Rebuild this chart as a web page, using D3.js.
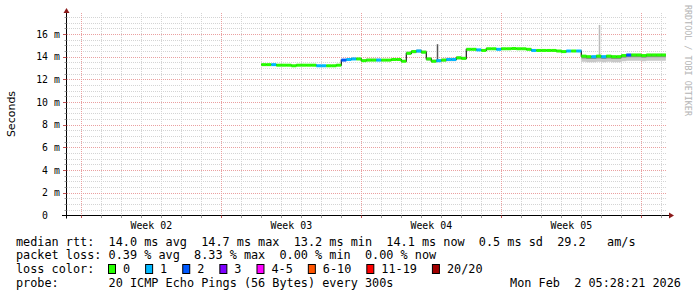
<!DOCTYPE html>
<html>
<head>
<meta charset="utf-8">
<script src="https://cdn.jsdelivr.net/npm/d3@7/dist/d3.min.js"></script>
<style>
  body { margin: 0; background: #fff; }
  text { font-family: "DejaVu Sans Mono", monospace; fill: #000; white-space: pre; }
</style>
</head>
<body>
<div id="chart"></div>
<script>
// time window of the graph (30 days)
var startTime = Date.UTC(2026, 0, 3, 6, 50);
var endTime = Date.UTC(2026, 1, 2, 6, 50);

// median rtt (ms), one sample every 6 hours from dataStart
var dataStart = Date.UTC(2026, 0, 13, 0, 0);
var dataEnd = Date.UTC(2026, 1, 2, 5, 30);
var stepHours = 6;
var median = [
  13.3, 13.3, 13.3, 13.25, 13.25, 13.25, 13.2, 13.25, 13.25, 13.25,
  13.25, 13.2, 13.2, 13.2, 13.2, 13.25, 13.7, 13.75, 13.8, 13.8,
  13.65, 13.7, 13.7, 13.7, 13.7, 13.7, 13.75, 13.75, 13.6, 14.3,
  14.45, 14.5, 14.4, 13.8, 13.6, 13.65, 13.7, 13.75, 13.75, 13.9,
  13.85, 14.65, 14.65, 14.6, 14.55, 14.7, 14.7, 14.65, 14.7, 14.7,
  14.72, 14.7, 14.7, 14.65, 14.55, 14.55, 14.55, 14.55, 14.55, 14.5,
  14.45, 14.5, 14.5, 14.5, 14.05, 14.0, 14.0, 14.05, 14.0, 14.05,
  14.0, 14.0, 14.1, 14.15, 14.15, 14.15, 14.1, 14.15, 14.15, 14.15,
  14.15
];
// lost pings (out of 20) per sample
var loss = [
  0, 0, 1, 0, 0, 0, 0, 0, 0, 0,
  0, 1, 1, 0, 0, 0, 2, 1, 1, 0,
  0, 0, 0, 1, 0, 0, 0, 0, 0, 0,
  0, 1, 0, 0, 0, 1, 0, 1, 1, 0,
  0, 0, 0, 1, 0, 0, 0, 1, 0, 0,
  0, 0, 0, 0, 1, 0, 0, 0, 0, 0,
  0, 1, 0, 1, 0, 0, 1, 0, 1, 0,
  0, 0, 0, 2, 0, 0, 0, 0, 0, 0,
  0
];
// smoke spread above / below the median (ms)
var smokeUp = [
  0.05, 0.05, 0.05, 0.05, 0.05, 0.05, 0.05, 0.05, 0.05, 0.05,
  0.05, 0.05, 0.05, 0.05, 0.05, 0.05, 0.1, 0.1, 0.1, 0.1,
  0.15, 0.15, 0.15, 0.15, 0.1, 0.1, 0.1, 0.1, 0.1, 0.15,
  0.15, 0.15, 0.15, 0.15, 0.15, 0.15, 0.15, 0.15, 0.15, 0.15,
  0.15, 0.05, 0.05, 0.05, 0.05, 0.05, 0.05, 0.05, 0.05, 0.05,
  0.05, 0.05, 0.05, 0.05, 0.05, 0.05, 0.05, 0.05, 0.05, 0.05,
  0.05, 0.05, 0.05, 0.05, 0.1, 0.1, 0.1, 0.1, 0.1, 0.1,
  0.1, 0.1, 0.1, 0.1, 0.1, 0.1, 0.1, 0.1, 0.1, 0.1,
  0.1
];
var smokeDown = [
  0.05, 0.05, 0.05, 0.05, 0.05, 0.05, 0.05, 0.05, 0.05, 0.05,
  0.05, 0.05, 0.05, 0.05, 0.05, 0.05, 0.1, 0.1, 0.1, 0.1,
  0.1, 0.1, 0.1, 0.1, 0.1, 0.1, 0.1, 0.1, 0.1, 0.15,
  0.15, 0.15, 0.15, 0.15, 0.15, 0.15, 0.15, 0.15, 0.15, 0.15,
  0.15, 0.05, 0.05, 0.05, 0.05, 0.05, 0.05, 0.05, 0.05, 0.05,
  0.05, 0.05, 0.05, 0.05, 0.05, 0.05, 0.05, 0.05, 0.05, 0.05,
  0.05, 0.05, 0.05, 0.05, 0.5, 0.5, 0.5, 0.5, 0.5, 0.5,
  0.5, 0.5, 0.5, 0.5, 0.5, 0.5, 0.5, 0.5, 0.5, 0.5,
  0.5
];
// single slow pings sticking out of the smoke
var spikeTimes = [Date.UTC(2026, 0, 21, 18, 30), Date.UTC(2026, 0, 29, 21, 15)];
var spikeValues = [15.1, 16.8];
var spikeColors = ["#555", "#bbb"];

var yTicks = [0, 2, 4, 6, 8, 10, 12, 14, 16];
var lossLabels = ["0", "1", "2", "3", "4-5", "6-10", "11-19", "20/20"];
var lossColors = ["#26ff00", "#00b8ff", "#0059ff", "#7e00ff", "#ff00ff", "#ff5500", "#ff0000", "#a10000"];
var statLines = [
  "median rtt:  14.0 ms avg  14.7 ms max  13.2 ms min  14.1 ms now  0.5 ms sd  29.2   am/s",
  "packet loss: 0.39 % avg  8.33 % max  0.00 % min  0.00 % now"
];
var probeText = "probe:       20 ICMP Echo Pings (56 Bytes) every 300s";
var dateText = "Mon Feb  2 05:28:21 2026";

// canvas
var width = 697, height = 297;
var plot = {left: 67, right: 667, top: 13, bottom: 215.5};
var charW = 7.12;

var svg = d3.select("#chart").append("svg")
    .attr("width", width)
    .attr("height", height);

var x = d3.scaleUtc().domain([startTime, endTime]).range([plot.left, plot.right]);
var y = d3.scaleLinear().domain([0, 16]).range([plot.bottom, 34]);

var step = stepHours * 3600 * 1000;
function tAt(i) { return dataStart + i * step; }
function lossClass(n) {
  if (n <= 3) return n;
  if (n <= 5) return 4;
  if (n <= 10) return 5;
  if (n <= 19) return 6;
  return 7;
}

// grid: horizontal
var minorY = d3.range(1, 36).map(function(k) { return k * 0.5; })
  .filter(function(v) { return v % 2 !== 0; });
var majorY = yTicks.filter(function(v) { return v > 0; });

svg.append("g").selectAll("line").data(minorY).enter().append("line")
  .attr("x1", plot.left).attr("x2", plot.right)
  .attr("y1", function(d) { return Math.round(y(d)) + 0.5; })
  .attr("y2", function(d) { return Math.round(y(d)) + 0.5; })
  .attr("stroke", "#d4d4d4").attr("stroke-dasharray", "1,1");

// grid: vertical days / weeks
var days = d3.utcDay.range(startTime, endTime);
var weeks = d3.utcSunday.range(startTime, endTime);
svg.append("g").selectAll("line").data(days.filter(function(d) { return d.getUTCDay() !== 0; }))
  .enter().append("line")
  .attr("x1", function(d) { return Math.round(x(d)) + 0.5; })
  .attr("x2", function(d) { return Math.round(x(d)) + 0.5; })
  .attr("y1", plot.top).attr("y2", plot.bottom)
  .attr("stroke", "#d4d4d4").attr("stroke-dasharray", "1,1");

svg.append("g").selectAll("line").data(majorY).enter().append("line")
  .attr("x1", plot.left).attr("x2", plot.right)
  .attr("y1", function(d) { return Math.round(y(d)) + 0.5; })
  .attr("y2", function(d) { return Math.round(y(d)) + 0.5; })
  .attr("stroke", "#eaa0a0").attr("stroke-dasharray", "1,1");

svg.append("g").selectAll("line").data(weeks).enter().append("line")
  .attr("x1", function(d) { return Math.round(x(d)) + 0.5; })
  .attr("x2", function(d) { return Math.round(x(d)) + 0.5; })
  .attr("y1", plot.top).attr("y2", plot.bottom)
  .attr("stroke", "#eaa0a0").attr("stroke-dasharray", "1,1");

// smoke
var pts = median.map(function(m, i) {
  return {t: tAt(i), m: m, up: smokeUp[i], down: smokeDown[i]};
});
pts.push({t: dataEnd, m: median[median.length - 1], up: smokeUp[smokeUp.length - 1], down: smokeDown[smokeDown.length - 1]});

var outer = d3.area().curve(d3.curveStepAfter)
  .x(function(d) { return x(d.t); })
  .y0(function(d) { return y(d.m - d.down); })
  .y1(function(d) { return y(d.m + d.up); });
var inner = d3.area().curve(d3.curveStepAfter)
  .x(function(d) { return x(d.t); })
  .y0(function(d) { return y(d.m - d.down * 0.4); })
  .y1(function(d) { return y(d.m + d.up * 0.4); });

svg.append("path").datum(pts).attr("d", outer).attr("fill", "#c8c8c8");
svg.append("path").datum(pts).attr("d", inner).attr("fill", "#8c8c8c");

// spikes
svg.append("g").selectAll("line").data(spikeTimes).enter().append("line")
  .attr("x1", function(d) { return Math.round(x(d)) + 0.5; })
  .attr("x2", function(d) { return Math.round(x(d)) + 0.5; })
  .attr("y1", function(d, i) { return y(spikeValues[i]); })
  .attr("y2", function(d, i) { return y(median[Math.floor((d - dataStart) / step)]); })
  .attr("stroke", function(d, i) { return spikeColors[i]; })
  .attr("stroke-width", 1.5);

// median step connector
var medLine = d3.line().curve(d3.curveStepAfter)
  .x(function(d) { return x(d.t); })
  .y(function(d) { return y(d.m); });
svg.append("path").datum(pts).attr("d", medLine)
  .attr("fill", "none").attr("stroke", "#1a1a1a").attr("stroke-width", 1.2);

// median coloured by loss
svg.append("g").selectAll("line").data(median).enter().append("line")
  .attr("x1", function(d, i) { return x(tAt(i)); })
  .attr("x2", function(d, i) { return x(Math.min(tAt(i + 1), dataEnd)); })
  .attr("y1", function(d) { return y(d); })
  .attr("y2", function(d) { return y(d); })
  .attr("stroke", function(d, i) { return lossColors[lossClass(loss[i])]; })
  .attr("stroke-width", 3);

// axes
svg.append("line")
  .attr("x1", 66.5).attr("x2", 66.5).attr("y1", plot.bottom + 3).attr("y2", 12)
  .attr("stroke", "#000");
svg.append("line")
  .attr("x1", 62).attr("x2", 670).attr("y1", plot.bottom).attr("y2", plot.bottom)
  .attr("stroke", "#000");
svg.append("path").attr("d", "M63.5,13L69.5,13L66.5,8Z").attr("fill", "#8b1a1a");
svg.append("path").attr("d", "M669,212.5L669,218.5L674,215.5Z").attr("fill", "#8b1a1a");

// axis ticks
svg.append("g").selectAll("line").data(minorY).enter().append("line")
  .attr("x1", 64.5).attr("x2", 66.5)
  .attr("y1", function(d) { return Math.round(y(d)) + 0.5; })
  .attr("y2", function(d) { return Math.round(y(d)) + 0.5; })
  .attr("stroke", "#999");
svg.append("g").selectAll("line").data(majorY).enter().append("line")
  .attr("x1", 63).attr("x2", 66.5)
  .attr("y1", function(d) { return Math.round(y(d)) + 0.5; })
  .attr("y2", function(d) { return Math.round(y(d)) + 0.5; })
  .attr("stroke", "#c05050");
svg.append("g").selectAll("line").data(days).enter().append("line")
  .attr("x1", function(d) { return Math.round(x(d)) + 0.5; })
  .attr("x2", function(d) { return Math.round(x(d)) + 0.5; })
  .attr("y1", plot.bottom).attr("y2", plot.bottom + 2.5)
  .attr("stroke", function(d) { return d.getUTCDay() === 0 ? "#c05050" : "#999"; });

// y tick labels
var yl = svg.append("g").style("font-size", "9.8px");
yl.selectAll(".num").data(yTicks).enter().append("text")
  .attr("x", 48).attr("y", function(d) { return y(d) + 3.5; })
  .attr("text-anchor", "end")
  .text(function(d) { return d; });
yl.selectAll(".unit").data(majorY).enter().append("text")
  .attr("x", 54).attr("y", function(d) { return y(d) + 3.5; })
  .text("m");

// week labels, centred in each week
svg.append("g").style("font-size", "9.9px").selectAll("text")
  .data(weeks.filter(function(d) { return x(d3.utcHour.offset(d, 84)) < plot.right; }))
  .enter().append("text")
  .attr("x", function(d) { return x(d3.utcHour.offset(d, 84)); })
  .attr("y", 228.5)
  .attr("text-anchor", "middle")
  .text(function(d) { return d3.utcFormat("Week %V")(d3.utcHour.offset(d, 84)); });

// y axis title
svg.append("text")
  .attr("transform", "translate(15,114) rotate(-90)")
  .attr("text-anchor", "middle")
  .style("font-family", "'DejaVu Sans', sans-serif")
  .style("font-size", "11px")
  .text("Seconds");

// watermark
svg.append("text")
  .attr("transform", "translate(684.5,5) rotate(90)")
  .style("font-size", "8.4px")
  .style("fill", "#b4b4b4")
  .text("RRDTOOL / TOBI OETIKER");

// legend
var leg = svg.append("g").style("font-size", "11.83px");
var rowY = [245.5, 259.2, 272.9, 286.6];
leg.selectAll(".stat").data(statLines).enter().append("text")
  .attr("x", 16).attr("y", function(d, i) { return rowY[i]; })
  .text(function(d) { return d; });
leg.append("text").attr("x", 16).attr("y", rowY[2]).text("loss color:");

var bx = 108;
lossLabels.forEach(function(lab, i) {
  leg.append("rect")
    .attr("x", bx + 0.5).attr("y", 264.5).attr("width", 7).attr("height", 9)
    .attr("fill", lossColors[i]).attr("stroke", "#000");
  leg.append("text").attr("x", bx + 15).attr("y", rowY[2]).text(lab);
  bx += 15 + lab.length * charW + 15;
});

leg.append("text").attr("x", 16).attr("y", rowY[3]).text(probeText);
leg.append("text").attr("x", 681).attr("y", rowY[3]).attr("text-anchor", "end").text(dateText);
</script>
</body>
</html>
